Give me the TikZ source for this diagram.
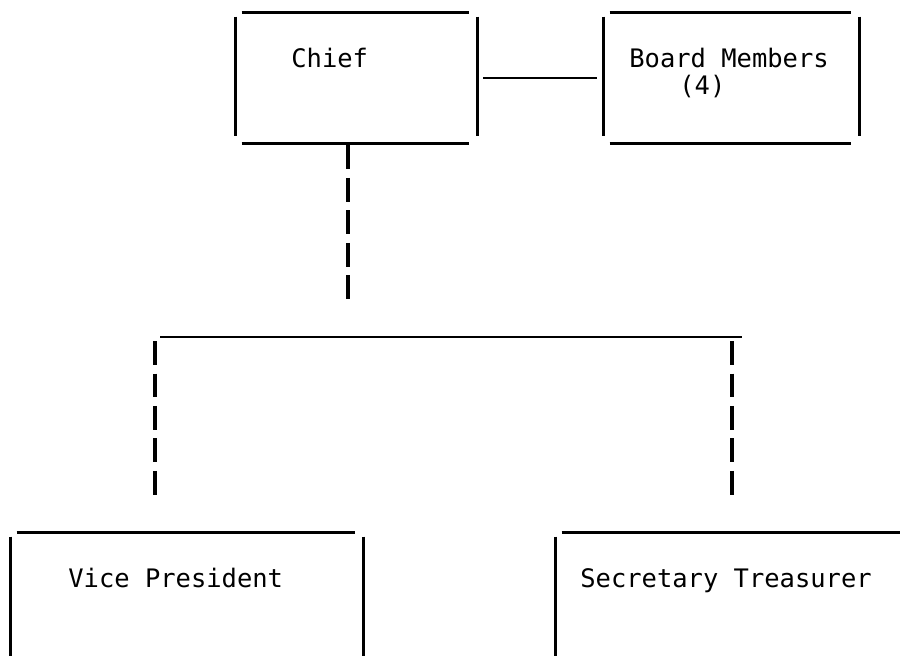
\documentclass[tikz,border=0pt]{standalone}
\usepackage{fontspec}
\setmonofont{DejaVu Sans Mono}
\usepackage{tikz}
\usetikzlibrary{positioning}

% sides of a typed box, a little apart at the corners
\newcommand{\typebox}[1]{%
  \draw[rule] ([xshift=0.12cm]#1.north west) -- ([xshift=-0.16cm]#1.north east);
  \draw[rule] ([xshift=0.12cm]#1.south west) -- ([xshift=-0.16cm]#1.south east);
  \draw[rule, line width=1.8pt] ([yshift=-0.08cm]#1.north west) -- ([yshift=0.14cm]#1.south west);
  \draw[rule, line width=1.8pt] ([yshift=-0.08cm]#1.north east) -- ([yshift=0.14cm]#1.south east);
}

\begin{document}
\begin{tikzpicture}[x=0.02cm, y=-0.02cm,
    rule/.style={line width=1.5pt, black},
    drop/.style={rule, line width=1.8pt, dash pattern=on 0.48cm off 0.17cm},
    orgbox/.style={rectangle, inner sep=0pt, minimum height=2.6cm},
    lbl/.style={anchor=base west, inner sep=0pt, font=\ttfamily\fontsize{14.5}{15.4}\selectfont}]
    \useasboundingbox (0,0) rectangle (903,657);
    \clip (0,0) rectangle (903,657);

    \node[orgbox, minimum width=4.82cm] (chief) at (356.5,78) {};
    \node[orgbox, minimum width=5.1cm] (board) at (731.5,78) {};
    \node[orgbox, minimum width=7.04cm] (vp) at (187,598) {};
    \node[orgbox, minimum width=7.04cm] (st) at (732,598) {};
    \typebox{chief}
    \typebox{board}
    \typebox{vp}
    \typebox{st}

    \node[lbl] (chieftxt) at (291,67) {Chief};
    \node[lbl] (boardtxt) at (629,67) {Board Members};
    \node[lbl] (boardnum) at (679,94) {(4)};
    \node[lbl] (vptxt) at (68,587) {Vice President};
    \node[lbl] (sttxt) at (580,587) {Secretary Treasurer};

    \coordinate (busL) at (155,337);
    \coordinate (busR) at (732,337);

    \draw[rule, shorten <=0.12cm, shorten >=0.14cm] (chief) -- (board);
    \draw[drop, shorten >=0.74cm] ([xshift=-0.17cm,yshift=-0.04cm]chief.south) -- ([xshift=-0.17cm]chief.south |- busL);
    \draw[rule] ([xshift=0.1cm]busL) -- ([xshift=0.2cm]busR);
    \draw[drop, shorten <=0.08cm, shorten >=0.76cm] (busL) -- (busL |- vp.north);
    \draw[drop, shorten <=0.08cm, shorten >=0.76cm] (busR) -- (busR |- st.north);
\end{tikzpicture}
\end{document}
